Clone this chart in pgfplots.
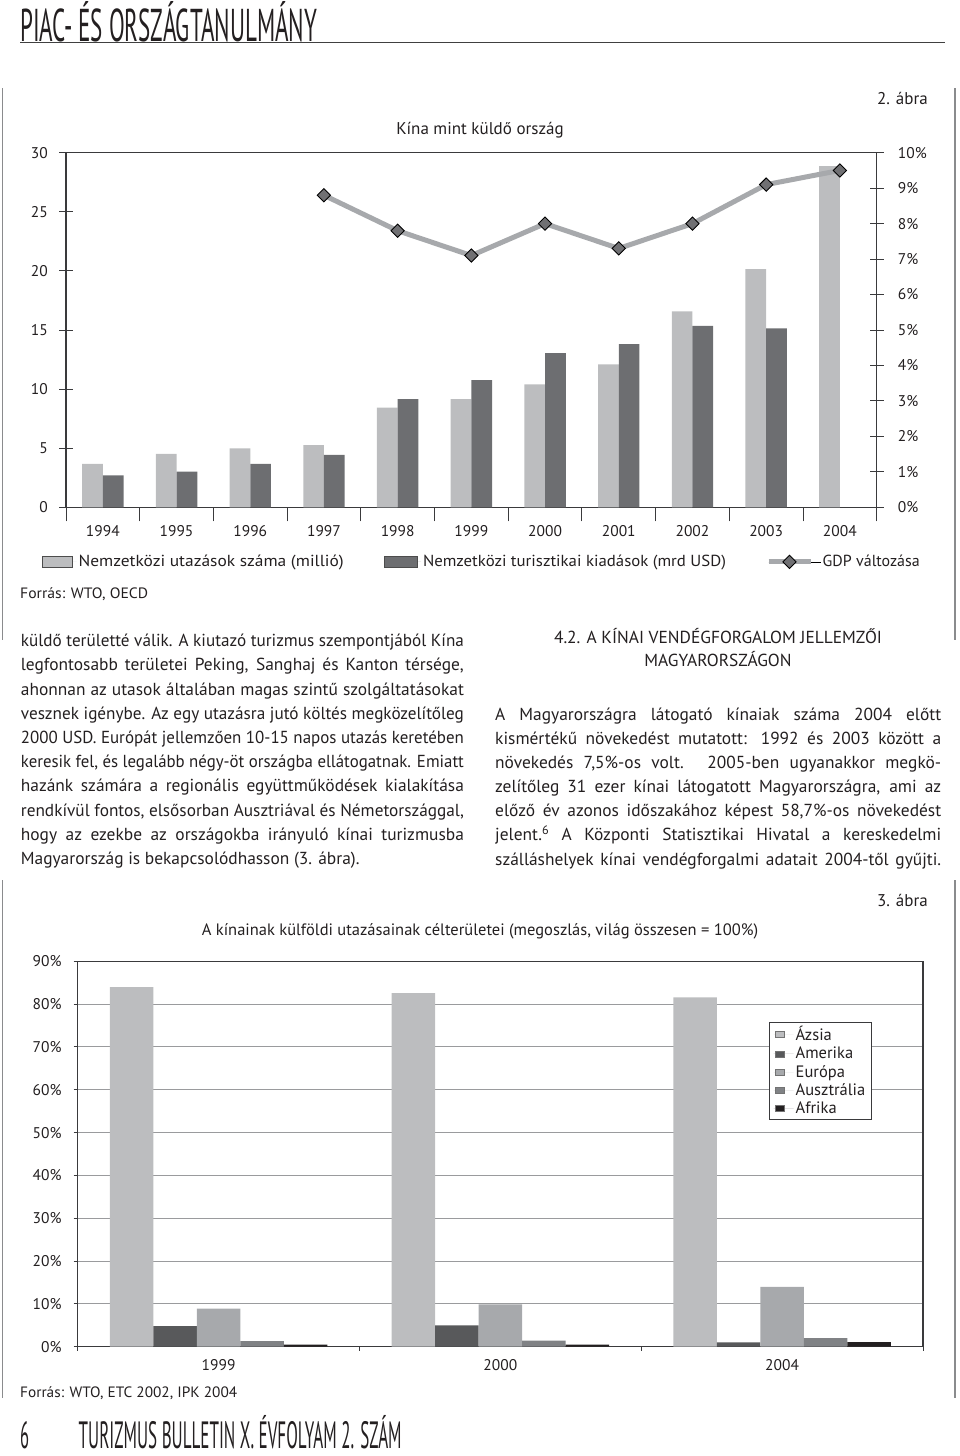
\documentclass[border=0pt]{standalone}
\usepackage{fontspec}
\setmainfont{PT Sans}
\usepackage{graphicx}
\usepackage{pgfplots}
\pgfplotsset{compat=1.18}
\definecolor{txt}{HTML}{231F20}
\definecolor{lightbar}{HTML}{BCBDBF}
\definecolor{darkbar}{HTML}{6D6E71}
\definecolor{gdpline}{HTML}{A7A9AC}
\definecolor{dmk}{HTML}{707073}
\definecolor{axc}{HTML}{3A3A3C}
\definecolor{gridc}{HTML}{9A9B9D}
\definecolor{framec}{HTML}{8A8B8D}
\definecolor{cAsia}{HTML}{BCBDBF}
\definecolor{cAmer}{HTML}{58595B}
\definecolor{cEur}{HTML}{A7A9AC}
\definecolor{cAusz}{HTML}{808285}
\definecolor{cAfr}{HTML}{231F20}
\newlength\jw
\newcommand\jl[2]{\setlength\jw{#1}\sbox0{#2}\ifdim\wd0>\jw\resizebox{\jw}{\height}{#2}\else\makebox[\jw][s]{#2}\fi}
\newcommand\bodyf{\fontsize{17.4}{24}\selectfont\color{txt}}
\begin{document}
\begin{tikzpicture}[x=1pt,y=1pt]
\path[use as bounding box] (0,0) rectangle (960,-1456);
% header
\node[anchor=base west, inner sep=0pt, text=txt] at (20,-41.7) {\resizebox{297pt}{\height}{\fontsize{46}{46}\selectfont PIAC- ÉS ORSZÁGTANULMÁNY}};
\draw[line width=1.3pt, black!75] (20,-42.5) -- (945,-42.5);
% frames
\draw[framec, line width=1.5pt] (2.7,-88) -- (2.7,-640);
\draw[framec, line width=1.5pt] (955,-88) -- (955,-640);
\draw[framec, line width=1.5pt] (2.7,-880) -- (2.7,-1398);
\draw[framec, line width=1.5pt] (955,-880) -- (955,-1398);
% chart 1 titles
\node[anchor=base east, inner sep=0pt, text=txt] at (928,-104.3) {\fontsize{17}{17}\selectfont 2. ábra};
\node[anchor=base, inner sep=0pt, text=txt] at (480,-134.3) {\fontsize{17}{17}\selectfont Kína mint küldő ország};

\begin{axis}[
  at={(66pt,-507.3pt)}, anchor=south west, scale only axis,
  width=810.7pt, height=354.6pt,
  xmin=-0.5, xmax=10.5, ymin=0, ymax=30,
  axis line style={draw=axc, line width=1.2pt},
  every tick/.style={draw=axc, line width=1pt},
  tick align=center, major tick length=14pt,
  tick pos=left,
  ytick={0,5,...,30},
  xtick={-0.5,0.5,...,10.5}, xticklabels={},
  extra x ticks={0,1,2,3,4,5,6,7,8,9,10},
  extra x tick labels={1994,1995,1996,1997,1998,1999,2000,2001,2002,2003,2004},
  extra x tick style={major tick length=0pt},
  ticklabel style={font=\fontsize{15.5}{15.5}\selectfont, text=txt},
  yticklabel style={anchor=east, inner sep=0pt, xshift=-11pt},
  xticklabel style={anchor=base, inner sep=0pt, yshift=-29pt},
  /pgf/number format/assume math mode=true,
  ybar=0pt, bar width=20.7pt,
  legend columns=-1,
  legend style={at={(-0.0333,-0.154)}, anchor=west, draw=none, fill=none,
    font=\fontsize{16}{16}\selectfont, text=txt,
    /tikz/every even column/.append style={column sep=38pt}},
]
\addplot[fill=lightbar, draw=none,
  legend image code/.code={\path (0pt,0pt) -- (34pt,0pt); \draw[fill=lightbar, draw=black!70, line width=0.8pt] (0pt,-5.5pt) rectangle (30pt,5.5pt);}]
  coordinates {(0,3.67) (1,4.51) (2,4.99) (3,5.27) (4,8.43) (5,9.16) (6,10.40) (7,12.10) (8,16.58) (9,20.16) (10,28.87)};
\addlegendentry{\resizebox{265pt}{\height}{Nemzetközi utazások száma (millió)}}
\addplot[fill=darkbar, draw=none,
  legend image code/.code={\path (0pt,0pt) -- (37pt,0pt); \draw[fill=darkbar, draw=black!70, line width=0.8pt] (0pt,-5.5pt) rectangle (33pt,5.5pt);}]
  coordinates {(0,2.71) (1,3.02) (2,3.67) (3,4.43) (4,9.16) (5,10.77) (6,13.05) (7,13.81) (8,15.34) (9,15.14)};
\addlegendentry{\resizebox{303pt}{\height}{Nemzetközi turisztikai kiadások (mrd USD)}}
\addlegendimage{legend image code/.code={
  \path (-4pt,0pt) -- (48pt,0pt);
  \draw[gdpline, line width=5pt] (-4pt,0pt) -- (38pt,0pt);
  \draw[fill=dmk, draw=black, line width=0.9pt] (17pt,6.6pt) -- (23.6pt,0pt) -- (17pt,-6.6pt) -- (10.4pt,0pt) -- cycle;}}
\addlegendentry{\resizebox{97pt}{\height}{GDP változása}}
\end{axis}

\begin{axis}[
  at={(66pt,-507.3pt)}, anchor=south west, scale only axis,
  width=810.7pt, height=354.6pt,
  xmin=-0.5, xmax=10.5, ymin=0, ymax=10,
  axis line style={draw=none},
  xtick=\empty,
  ytick={0,1,...,10},
  ytick pos=right, yticklabel pos=right,
  every tick/.style={draw=axc, line width=1pt},
  tick align=center, major tick length=14pt,
  yticklabel={\pgfmathprintnumber{\tick}\%},
  ticklabel style={font=\fontsize{15.5}{15.5}\selectfont, text=txt},
  yticklabel style={anchor=west, inner sep=0pt, xshift=14pt},
  /pgf/number format/assume math mode=true,
]
\addplot[gdpline, line width=5pt, mark=square*, mark size=4.7pt,
  mark options={rotate=45, fill=dmk, draw=black, line width=0.9pt, solid}]
  coordinates {(3,8.8) (4,7.8) (5,7.1) (6,8.0) (7,7.3) (8,8.0) (9,9.1) (10,9.5)};
\end{axis}

\node[anchor=base west, inner sep=0pt, text=txt] at (20,-598.3) {\resizebox{128pt}{\height}{\fontsize{15}{15}\selectfont Forrás: WTO, OECD}};

% body text left
\begin{scope}[every node/.style={anchor=base west, inner sep=0pt}]
\node at (20.7,-646.7) {\bodyf\jl{443pt}{küldő területté válik. A kiutazó turizmus szempontjából Kína}};
\node at (20.7,-670.9) {\bodyf\jl{443pt}{legfontosabb területei Peking, Sanghaj és Kanton térsége,}};
\node at (20.7,-695.1) {\bodyf\jl{443pt}{ahonnan az utasok általában magas szintű szolgáltatásokat}};
\node at (20.7,-719.3) {\bodyf\jl{443pt}{vesznek igénybe. Az egy utazásra jutó költés megközelítőleg}};
\node at (20.7,-743.5) {\bodyf\jl{443pt}{2000 USD. Európát jellemzően 10-15 napos utazás keretében}};
\node at (20.7,-767.7) {\bodyf\jl{443pt}{keresik fel, és legalább négy-öt országba ellátogatnak. Emiatt}};
\node at (20.7,-791.9) {\bodyf\jl{443pt}{hazánk számára a regionális együttműködések kialakítása}};
\node at (20.7,-816.1) {\bodyf\jl{443pt}{rendkívül fontos, elsősorban Ausztriával és Németországgal,}};
\node at (20.7,-840.3) {\bodyf\jl{443pt}{hogy az ezekbe az országokba irányuló kínai turizmusba}};
\node at (20.7,-864.5) {\bodyf Magyarország is bekapcsolódhasson (3. ábra).};
% right column
\node[anchor=base] at (718,-643.3) {\bodyf 4.2. A KÍNAI VENDÉGFORGALOM JELLEMZŐI};
\node[anchor=base] at (718,-666.7) {\bodyf MAGYARORSZÁGON};
\node at (495,-720) {\bodyf\jl{446pt}{A Magyarországra látogató kínaiak száma 2004 előtt}};
\node at (495,-744) {\bodyf\jl{446pt}{kismértékű növekedést mutatott: 1992 és 2003 között a}};
\node at (495,-768.3) {\bodyf\jl{446pt}{növekedés 7,5\%-os volt. 2005-ben ugyanakkor megkö-}};
\node at (495,-792.5) {\bodyf\jl{446pt}{zelítőleg 31 ezer kínai látogatott Magyarországra, ami az}};
\node at (495,-816.7) {\bodyf\jl{446pt}{előző év azonos időszakához képest 58,7\%-os növekedést}};
\node at (495,-840.8) {\bodyf\jl{446pt}{jelent.\textsuperscript{6} A Központi Statisztikai Hivatal a kereskedelmi}};
\node at (495,-865) {\bodyf\jl{446pt}{szálláshelyek kínai vendégforgalmi adatait 2004-től gyűjti.}};
\end{scope}

% chart 2 titles
\node[anchor=base east, inner sep=0pt, text=txt] at (928,-906) {\fontsize{17}{17}\selectfont 3. ábra};
\node[anchor=base, inner sep=0pt, text=txt] at (480,-935.7) {\fontsize{16.5}{16.5}\selectfont A kínainak külföldi utazásainak célterületei (megoszlás, világ összesen = 100\%)};

\begin{axis}[
  at={(77.7pt,-1346.7pt)}, anchor=south west, scale only axis,
  width=845.3pt, height=385.4pt,
  xmin=-0.5, xmax=2.5, ymin=0, ymax=90,
  axis line style={draw=axc, line width=1.2pt},
  ymajorgrids, grid style={draw=gridc, line width=1pt},
  every tick/.style={draw=axc, line width=1pt},
  tick align=outside, major tick length=4pt, tick pos=left,
  ytick={0,10,...,90},
  yticklabel={\pgfmathprintnumber{\tick}\%},
  xtick={-0.5,0.5,1.5,2.5}, xticklabels={},
  extra x ticks={0,1,2}, extra x tick labels={1999,2000,2004},
  extra x tick style={major tick length=0pt},
  ticklabel style={font=\fontsize{15.5}{15.5}\selectfont, text=txt},
  yticklabel style={anchor=east, inner sep=0pt, xshift=-12pt},
  xticklabel style={anchor=base, inner sep=0pt, yshift=-24pt},
  /pgf/number format/assume math mode=true,
  ybar=0pt, bar width=43.5pt,
  legend cell align=left,
  legend style={at={(0.818,0.843)}, anchor=north west, draw=axc, line width=1pt, fill=white,
    font=\fontsize{16.5}{16.5}\selectfont, text=txt, inner xsep=4pt, inner ysep=2pt, row sep=1pt},
]
\addplot[fill=cAsia, draw=none, legend image code/.code={\path (0pt,0pt) -- (20pt,0pt); \draw[fill=cAsia, draw=black!55, line width=0.6pt] (2pt,-3pt) rectangle (11pt,3pt);}]
  coordinates {(0,84.0) (1,82.6) (2,81.6)};
\addlegendentry{Ázsia}
\addplot[fill=cAmer, draw=none, legend image code/.code={\path (0pt,0pt) -- (20pt,0pt); \draw[fill=cAmer, draw=black!55, line width=0.6pt] (2pt,-3pt) rectangle (11pt,3pt);}]
  coordinates {(0,4.8) (1,5.0) (2,1.0)};
\addlegendentry{Amerika}
\addplot[fill=cEur, draw=none, legend image code/.code={\path (0pt,0pt) -- (20pt,0pt); \draw[fill=cEur, draw=black!55, line width=0.6pt] (2pt,-3pt) rectangle (11pt,3pt);}]
  coordinates {(0,8.9) (1,9.9) (2,14.0)};
\addlegendentry{Európa}
\addplot[fill=cAusz, draw=none, legend image code/.code={\path (0pt,0pt) -- (20pt,0pt); \draw[fill=cAusz, draw=black!55, line width=0.6pt] (2pt,-3pt) rectangle (11pt,3pt);}]
  coordinates {(0,1.3) (1,1.4) (2,2.0)};
\addlegendentry{Ausztrália}
\addplot[fill=cAfr, draw=none, legend image code/.code={\path (0pt,0pt) -- (20pt,0pt); \draw[fill=cAfr, draw=black!55, line width=0.6pt] (2pt,-3pt) rectangle (11pt,3pt);}]
  coordinates {(0,0.5) (1,0.5) (2,1.1)};
\addlegendentry{Afrika}
\end{axis}

\node[anchor=base west, inner sep=0pt, text=txt] at (20,-1397) {\resizebox{217pt}{\height}{\fontsize{15}{15}\selectfont Forrás: WTO, ETC 2002, IPK 2004}};
% footer
\node[anchor=base west, inner sep=0pt, text=txt] at (20,-1448) {\resizebox{9pt}{\height}{\fontsize{38}{38}\selectfont 6}};
\node[anchor=base west, inner sep=0pt, text=txt] at (78.5,-1448) {\resizebox{323pt}{\height}{\fontsize{38}{38}\selectfont TURIZMUS BULLETIN X. ÉVFOLYAM 2. SZÁM}};
\end{tikzpicture}
\end{document}
